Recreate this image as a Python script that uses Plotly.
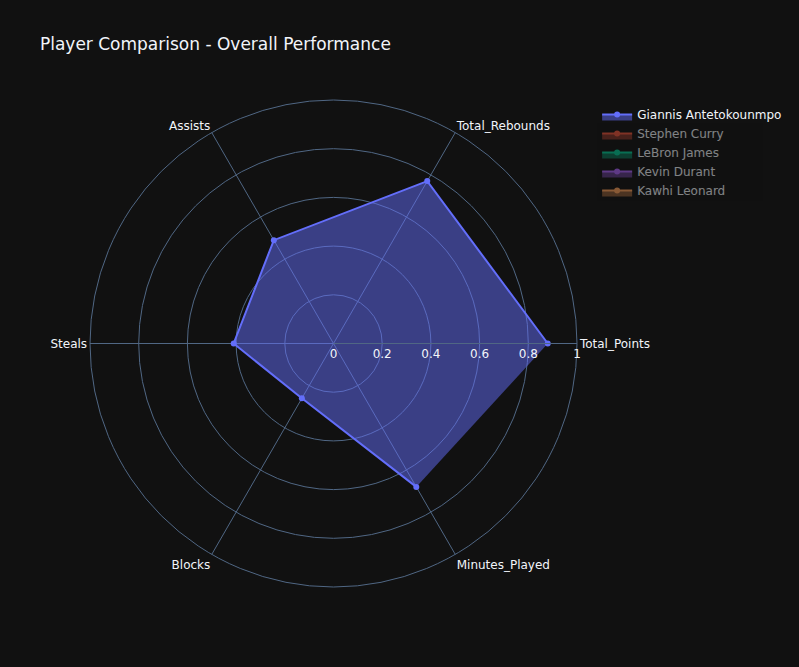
import plotly.graph_objects as go

categories = ["Total_Points", "Total_Rebounds", "Assists", "Steals", "Blocks", "Minutes_Played"]

players = ["Giannis Antetokounmpo", "Stephen Curry", "LeBron James", "Kevin Durant", "Kawhi Leonard"]

giannis = [0.88, 0.77, 0.49, 0.41, 0.26, 0.68]
curry = [0.85, 0.35, 0.62, 0.55, 0.10, 0.70]
lebron = [0.80, 0.60, 0.85, 0.50, 0.30, 0.72]
durant = [0.82, 0.55, 0.45, 0.35, 0.45, 0.66]
kawhi = [0.70, 0.50, 0.40, 0.70, 0.30, 0.60]

values = [giannis, curry, lebron, durant, kawhi]
visible = [True, "legendonly", "legendonly", "legendonly", "legendonly"]

fig = go.Figure()
for name, vals, vis in zip(players, values, visible):
    fig.add_trace(go.Scatterpolar(
        r=vals,
        theta=categories,
        fill="toself",
        name=name,
        visible=vis,
    ))

fig.update_layout(
    template="plotly_dark",
    font=dict(family="Verdana, DejaVu Sans, sans-serif"),
    title="Player Comparison - Overall Performance",
    polar=dict(radialaxis=dict(visible=True, range=[0, 1])),
    showlegend=True,
    width=799,
    height=667,
)

fig.write_html("out.html")
